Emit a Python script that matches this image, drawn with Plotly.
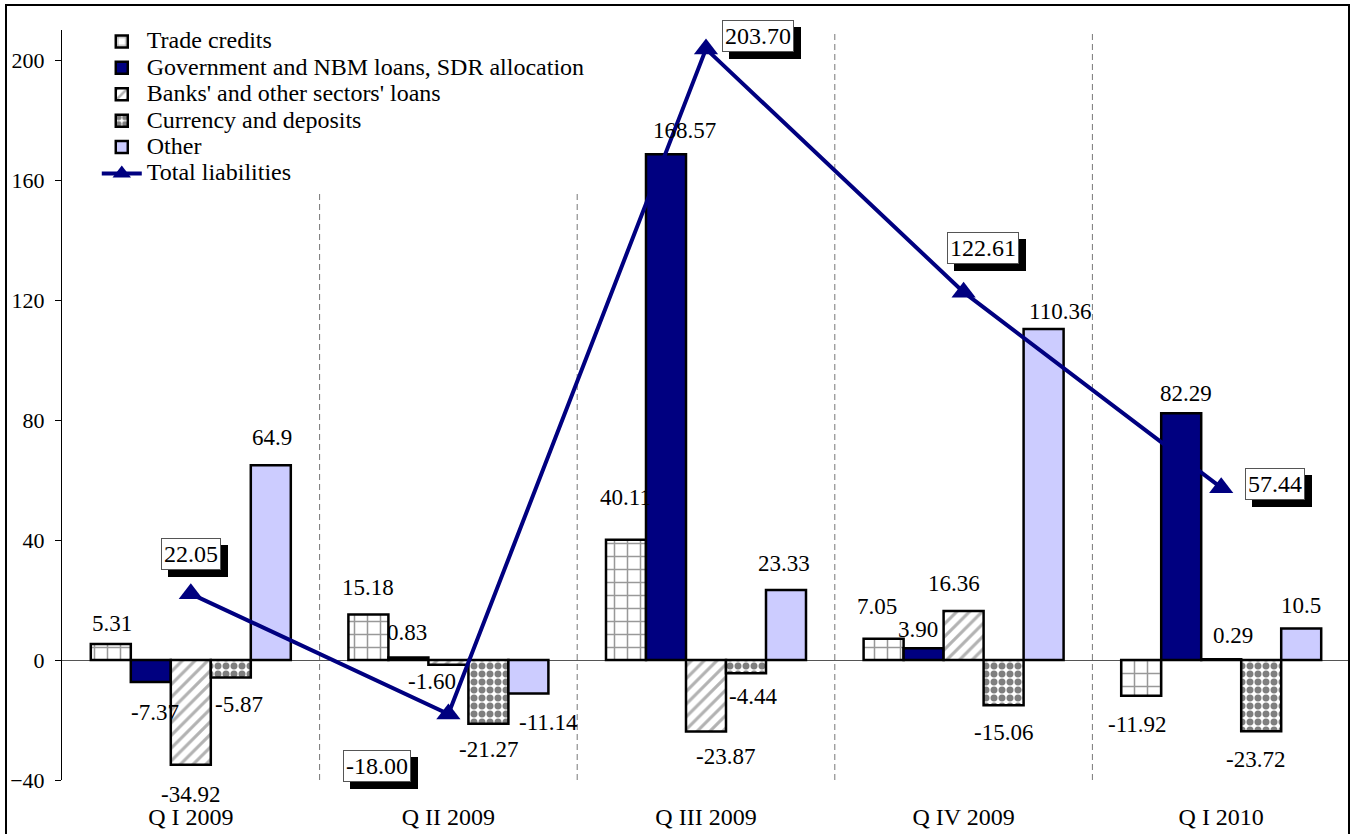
import plotly.graph_objects as go

# ---------------- data ----------------
quarters = ["Q I 2009", "Q II 2009", "Q III 2009", "Q IV 2009", "Q I 2010"]
trade_credits = [5.31, 15.18, 40.11, 7.05, -11.92]
gov_nbm_loans = [-7.37, 0.83, 168.57, 3.90, 82.29]
banks_loans = [-34.92, -1.60, -23.87, 16.36, 0.29]
currency_deposits = [-5.87, -21.27, -4.44, -15.06, -23.72]
other = [64.9, -11.14, 23.33, 110.36, 10.5]
total_liabilities = [22.05, -18.00, 203.70, 122.61, 57.44]

trade_labels = ["5.31", "15.18", "40.11", "7.05", "-11.92"]
gov_labels = ["-7.37", "0.83", "168.57", "3.90", "82.29"]
banks_labels = ["-34.92", "-1.60", "-23.87", "16.36", "0.29"]
currency_labels = ["-5.87", "-21.27", "-4.44", "-15.06", "-23.72"]
other_labels = ["64.9", "-11.14", "23.33", "110.36", "10.5"]
total_labels = ["22.05", "-18.00", "203.70", "122.61", "57.44"]

y_ticks = [-40, 0, 40, 80, 120, 160, 200]

# ---------------- styling ----------------
FONT = "Liberation Serif"
NAVY = "#000080"
LAV = "#CCCCFF"
BARGAP = 1 - 200 / 257.6
NSER = 5
BW = (1 - BARGAP) / NSER

# label offsets in pixels (dx, dy up-positive) relative to bar end
trade_off = [(1, 21), (0, 27), (-1, 42), (-7, 32), (-4, -29)]
gov_off = [(4, -30), (-1, 25), (18, 24), (-6, 19), (5, 20)]
banks_off = [(0, -30), (-16, -17), (19, -25), (-10, 27), (12, 24)]
currency_off = [(8, -27), (0, -26), (7, -23), (0, -27), (-6, -28)]
other_off = [(1, 28), (20, -29), (-2, 27), (16, 17), (0, 23)]
total_off = [(0, 40), (-71, -52), (52, 13), (19, 44), (54, 4)]

xs = list(range(len(quarters)))

series = [
    ("Trade credits", trade_credits, trade_labels, trade_off,
     dict(color="white", line=dict(color="black", width=2.5),
          pattern=dict(shape="+", fgcolor="#333333", bgcolor="white", size=13, solidity=0.22, fillmode="overlay"))),
    ("Government and NBM loans, SDR allocation", gov_nbm_loans, gov_labels, gov_off,
     dict(color=NAVY, line=dict(color="black", width=2.5))),
    ("Banks' and other sectors' loans", banks_loans, banks_labels, banks_off,
     dict(color="white", line=dict(color="black", width=2.5),
          pattern=dict(shape="/", fgcolor="#666666", bgcolor="white", size=9, solidity=0.35, fillmode="overlay"))),
    ("Currency and deposits", currency_deposits, currency_labels, currency_off,
     dict(color="white", line=dict(color="black", width=2.5),
          pattern=dict(shape=".", fgcolor="black", bgcolor="white", size=8, solidity=0.6, fillmode="overlay"))),
    ("Other", other, other_labels, other_off,
     dict(color=LAV, line=dict(color="black", width=2.5))),
]

fig = go.Figure()
annotations = []
for i, (name, vals, labs, offs, marker) in enumerate(series):
    fig.add_trace(go.Bar(
        x=xs, y=vals, name='<span style="font-size:24px">' + name + '</span>',
        marker=marker, hoverinfo="skip",
    ))
    for k, (v, t, (dx, dy)) in enumerate(zip(vals, labs, offs)):
        annotations.append(dict(
            x=k + (i - (NSER - 1) / 2) * BW, y=v, xref="x", yref="y",
            text=t, showarrow=False, xshift=dx, yshift=dy,
            font=dict(family=FONT, size=23, color="black"),
        ))

fig.add_trace(go.Scatter(
    x=xs, y=total_liabilities, mode="lines+markers",
    name='<span style="font-size:24px">Total liabilities</span>',
    line=dict(color=NAVY, width=4),
    marker=dict(symbol="triangle-up", size=21, color=NAVY),
    hoverinfo="skip",
))

for k, (v, t, (dx, dy)) in enumerate(zip(total_liabilities, total_labels, total_off)):
    # shadow
    annotations.append(dict(
        x=k, y=v, xref="x", yref="y", text=t, showarrow=False,
        xshift=dx + 7, yshift=dy - 7,
        font=dict(family=FONT, size=24, color="black"),
        bgcolor="black", bordercolor="black", borderwidth=1, borderpad=2,
    ))
    annotations.append(dict(
        x=k, y=v, xref="x", yref="y", text=t, showarrow=False,
        xshift=dx, yshift=dy,
        font=dict(family=FONT, size=24, color="black"),
        bgcolor="white", bordercolor="#555555", borderwidth=1, borderpad=2,
    ))

shapes = []
for b in [0.5, 1.5, 2.5, 3.5]:
    shapes.append(dict(type="line", xref="x", yref="paper", x0=b, x1=b, y0=0, y1=1,
                       line=dict(color="#777777", width=1, dash="6px,4px"), layer="below"))
# outer frame
shapes.append(dict(type="rect", xref="paper", yref="paper",
                   x0=(6 - 62) / 1288, x1=(1349 - 62) / 1288, y0=-0.2, y1=(780 - 5) / 750,
                   line=dict(color="black", width=2), fillcolor="rgba(0,0,0,0)", layer="above"))

fig.update_layout(
    width=1353, height=834,
    margin=dict(l=62, r=3, t=30, b=54),
    paper_bgcolor="white", plot_bgcolor="white",
    barmode="group", bargap=BARGAP, bargroupgap=0,
    font=dict(family=FONT, color="black"),
    showlegend=True,
    legend=dict(x=0.027, y=1.009, xanchor="left", yanchor="top",
                font=dict(family=FONT, size=18, color="black"),
                bgcolor="white", borderwidth=0, itemwidth=40,
                tracegroupgap=0),
    xaxis=dict(range=[-0.5, len(quarters) - 0.5], tickvals=xs, ticktext=quarters,
               showgrid=False, zeroline=False, showline=False, ticks="",
               tickfont=dict(family=FONT, size=24, color="black"),
               ticklabelstandoff=20),
    yaxis=dict(range=[-40, 210], tickvals=y_ticks, showgrid=False,
               zeroline=True, zerolinecolor="#555555", zerolinewidth=1,
               showline=True, linecolor="black", linewidth=1,
               ticks="outside", ticklen=6, tickcolor="black",
               tickfont=dict(family=FONT, size=22, color="black"),
               ticklabelstandoff=6),
    annotations=annotations,
    shapes=shapes,
)

fig.write_html("out.html")
